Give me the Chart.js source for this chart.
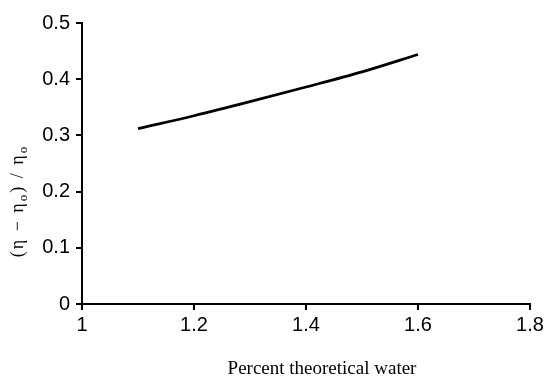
<!DOCTYPE html>
<html>
<head>
<meta charset="utf-8">
<script src="https://cdn.jsdelivr.net/npm/chart.js@4"></script>
<style>
  html, body { margin: 0; padding: 0; background: #fff; }
  #wrap { width: 549px; height: 377px; }
</style>
</head>
<body>
<div id="wrap"><canvas id="chart" width="549" height="377"></canvas></div>
<script>
// values
const waterPct = [1.1, 1.2, 1.3, 1.4, 1.5, 1.6];
const viscRatio = [0.312, 0.335, 0.36, 0.386, 0.413, 0.444];
const xTicks = [1, 1.2, 1.4, 1.6, 1.8];
const yTicks = [0, 0.1, 0.2, 0.3, 0.4, 0.5];
const xTitle = 'Percent theoretical water';
// y title as runs: [text, subscript?]
const yTitleRuns = [['(η − η', false], ['o', true], [') / η', false], ['o', true]];

const points = waterPct.map((x, i) => ({ x: x, y: viscRatio[i] }));

const serif = '"Liberation Serif", "Times New Roman", serif';

// axis titles sit a bit off the plot centre in the original, so draw them by hand
const axisTitles = {
  id: 'axisTitles',
  afterDraw(chart) {
    const c = chart.ctx;
    c.save();
    c.fillStyle = '#000';
    c.textBaseline = 'alphabetic';
    c.textAlign = 'center';
    c.font = '19px ' + serif;
    c.fillText(xTitle, 322, 374);

    // rotated y title, built from normal and subscript runs
    c.textAlign = 'left';
    c.letterSpacing = '2px';
    const mainFont = '18px ' + serif;
    const subFont = '13px ' + serif;
    let total = 0;
    yTitleRuns.forEach(([t, sub]) => {
      c.font = sub ? subFont : mainFont;
      total += c.measureText(t).width;
    });
    c.translate(23, 201);
    c.rotate(-Math.PI / 2);
    let x = -total / 2;
    yTitleRuns.forEach(([t, sub]) => {
      c.font = sub ? subFont : mainFont;
      c.fillText(t, x, sub ? 4 : 0);
      x += c.measureText(t).width;
    });
    c.restore();
  }
};

const ctx = document.getElementById('chart').getContext('2d');
new Chart(ctx, {
  type: 'scatter',
  data: {
    datasets: [{
      data: points,
      showLine: true,
      borderColor: '#000',
      borderWidth: 2.7,
      pointRadius: 0,
      cubicInterpolationMode: 'monotone'
    }]
  },
  options: {
    responsive: false,
    animation: false,
    layout: { padding: { top: 23, right: 19, left: 0, bottom: 0 } },
    plugins: { legend: { display: false }, tooltip: { enabled: false } },
    scales: {
      x: {
        type: 'linear',
        min: 1,
        max: 1.8,
        afterBuildTicks: (s) => { s.ticks = xTicks.map(v => ({ value: v })); },
        afterFit: (s) => { s.height = 73; },
        border: { color: '#000', width: 2 },
        grid: { drawOnChartArea: false, color: '#000', tickLength: 6, lineWidth: 2 },
        ticks: {
          color: '#000',
          padding: 3,
          font: { family: 'Liberation Sans, Arial', size: 20 },
          callback: (v) => String(v)
        }
      },
      y: {
        min: 0,
        max: 0.5,
        afterBuildTicks: (s) => { s.ticks = yTicks.map(v => ({ value: v })); },
        afterFit: (s) => { s.width = 82; },
        border: { color: '#000', width: 2 },
        grid: { drawOnChartArea: false, color: '#000', tickLength: 6, lineWidth: 2 },
        ticks: {
          color: '#000',
          padding: 6,
          font: { family: 'Liberation Sans, Arial', size: 20 },
          callback: (v) => String(v)
        }
      }
    }
  },
  plugins: [axisTitles]
});
</script>
</body>
</html>
